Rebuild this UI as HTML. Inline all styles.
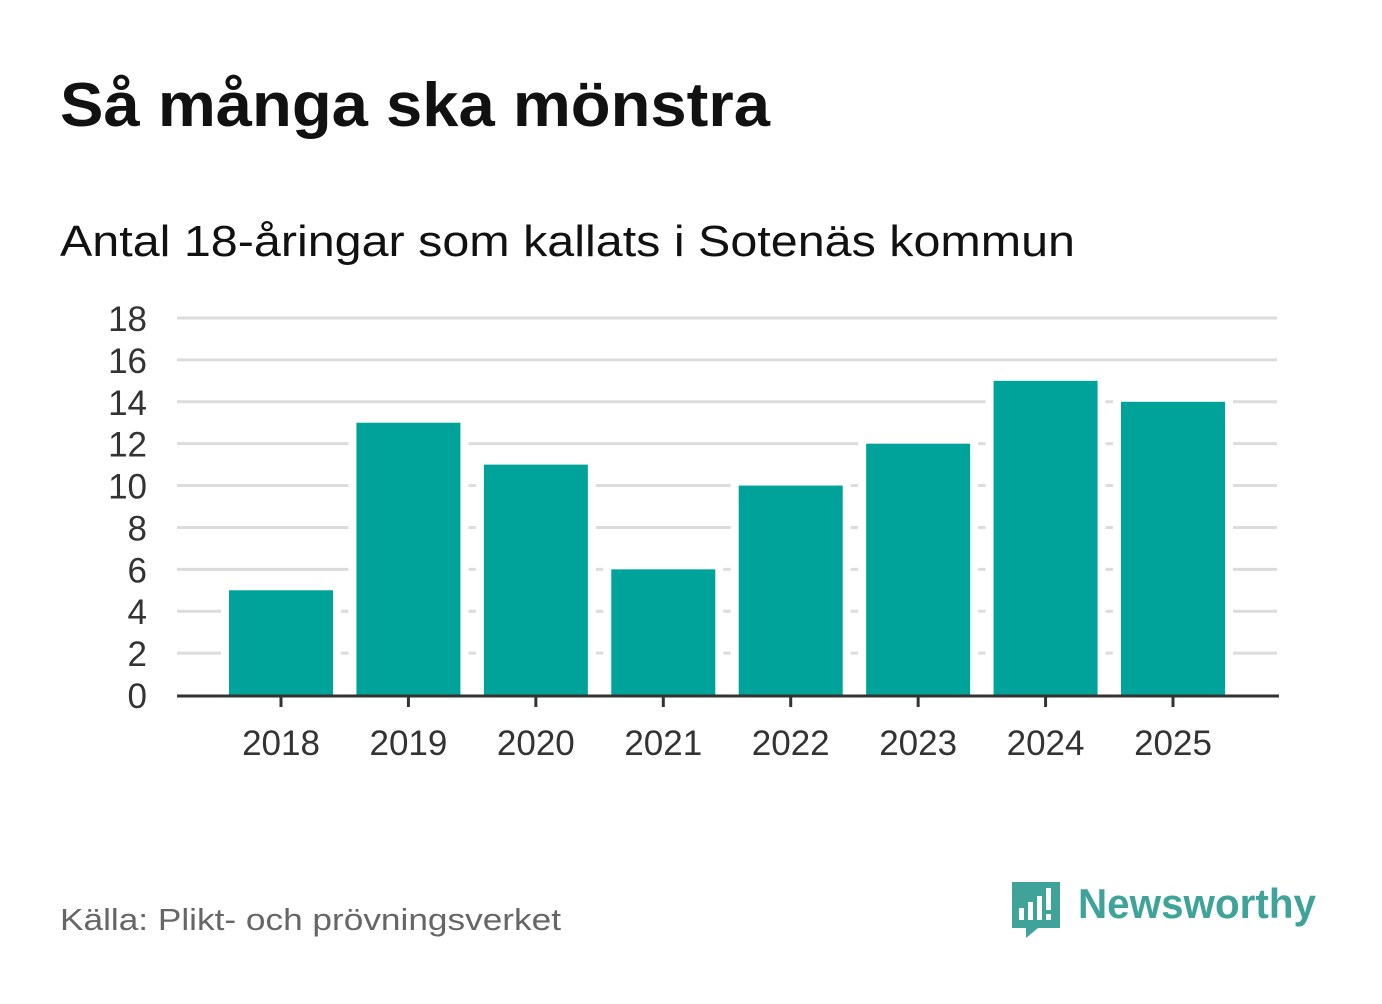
<!DOCTYPE html>
<html><head><meta charset="utf-8"><style>
body{margin:0;background:#fff;width:1382px;height:999px;overflow:hidden;font-family:"Liberation Sans",sans-serif}
</style></head><body>
<svg width="1382" height="999">
<text x="60" y="126" font-size="62" font-weight="bold" fill="#111" textLength="710" lengthAdjust="spacingAndGlyphs">Så många ska mönstra</text>
<text x="60" y="256" font-size="44" fill="#111" textLength="1015" lengthAdjust="spacingAndGlyphs">Antal 18-åringar som kallats i Sotenäs kommun</text>
<g id="grid"></g><g id="bars"></g><g id="xt"></g>
<text x="60" y="930" font-size="31" fill="#666" textLength="501" lengthAdjust="spacingAndGlyphs">Källa: Plikt- och prövningsverket</text>
<g>
<path d="M1012 882 h48 v46 h-22 l-12 10 v-10 h-14 z" fill="#3fa39a"/>
<rect x="1019" y="908" width="5" height="12" fill="#fff"/><rect x="1028" y="902" width="5" height="18" fill="#fff"/><rect x="1037" y="896" width="5" height="24" fill="#fff"/><rect x="1046" y="888" width="5" height="22" fill="#fff"/><rect x="1046" y="914" width="5" height="6" fill="#fff"/>
<text x="1078" y="918" font-size="42" font-weight="bold" fill="#3fa39a" textLength="238" lengthAdjust="spacingAndGlyphs">Newsworthy</text>
</g>
</svg>
<script>
const years=["2018","2019","2020","2021","2022","2023","2024","2025"];
const values=[5,13,11,6,10,12,15,14];
const yTicks=[0,2,4,6,8,10,12,14,16,18];
const NS="http://www.w3.org/2000/svg";
const y0=695,yTop=318,yMax=18,x0=177,x1=1277;
function y(v){return y0-(y0-yTop)*v/yMax;}
function xc(i){return 281+i*(1173-281)/(years.length-1);}
function mk(t,a,p){const e=document.createElementNS(NS,t);for(const k in a)e.setAttribute(k,a[k]);p.appendChild(e);return e;}
const grid=document.getElementById('grid'),bars=document.getElementById('bars'),xt=document.getElementById('xt');
yTicks.forEach(v=>{
 if(v>0){const l=mk('line',{x1:x0,x2:x1,y1:y(v),y2:y(v),stroke:'#dcdcdc','stroke-width':3},grid);
 
 }
 const t=mk('text',{x:147,y:y(v)+13,'font-size':35,'text-anchor':'end',fill:'#333'},grid);t.textContent=v;
 
 
});
values.forEach((v,i)=>{
 const r=mk('rect',{x:xc(i)-52,y:y(v),width:104,height:y0-y(v),fill:'#00a39a'},bars);
 
 
 mk('rect',{x:xc(i)-60,y:y(v)-2,width:120,height:y0-y(v),fill:'#fff'},grid);
 mk('line',{x1:xc(i),x2:xc(i),y1:y0,y2:y0+12,stroke:'#333','stroke-width':3},xt);
 const t=mk('text',{x:xc(i),y:755,'font-size':35,'text-anchor':'middle',fill:'#333'},xt);t.textContent=years[i];
 
 
});
const ax=mk('line',{x1:x0,x2:x1+2,y1:y0+1,y2:y0+1,stroke:'#333','stroke-width':3},xt);


</script>
</body></html>
